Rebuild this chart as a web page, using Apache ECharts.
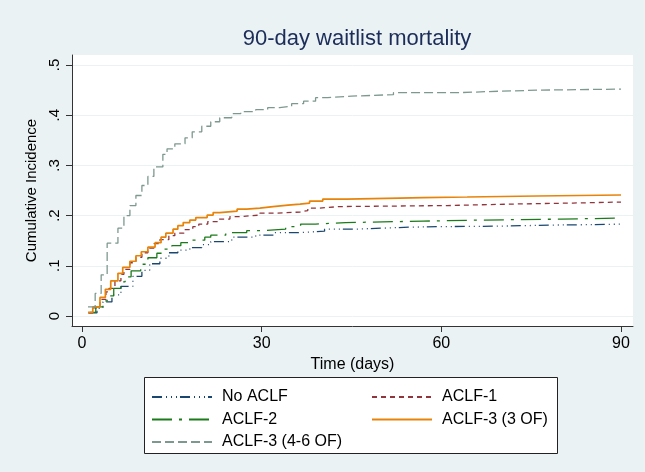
<!DOCTYPE html>
<html>
<head>
<meta charset="utf-8">
<script src="https://cdn.jsdelivr.net/npm/echarts@6/dist/echarts.min.js"></script>
<style>
  html, body { margin: 0; padding: 0; background: #EAF2F3; }
  #chart { width: 645px; height: 472px; }
</style>
</head>
<body>
<div id="chart"></div>
<script>
// ---- data ----
const seriesNames = ['No ACLF', 'ACLF-1', 'ACLF-2', 'ACLF-3 (3 OF)', 'ACLF-3 (4-6 OF)'];

const noAclfDays = [1.2, 2.5, 3.5, 5, 6.5, 8.5, 10, 11.3, 13, 14.5, 16, 18, 20, 21.5, 25, 29, 32, 36, 40.5, 46, 50, 55, 60, 70, 78, 85, 90];
const noAclfCI   = [0.006, 0.015, 0.028, 0.042, 0.059, 0.079, 0.091, 0.104, 0.115, 0.126, 0.131, 0.136, 0.142, 0.148, 0.157, 0.161, 0.166, 0.169, 0.173, 0.175, 0.177, 0.178, 0.179, 0.181, 0.182, 0.183, 0.183];

const aclf1Days = [1, 1.8, 3, 4, 4.5, 5.5, 6.5, 7, 8, 9, 10, 11, 12, 13, 14.5, 15.5, 17, 18.5, 19.5, 21, 22.7, 24.7, 26.4, 29.7, 32.5, 36.4, 37.7, 39.7, 43, 61, 72, 82, 90];
const aclf1CI   = [0.006, 0.016, 0.033, 0.048, 0.055, 0.07, 0.083, 0.093, 0.106, 0.117, 0.126, 0.135, 0.144, 0.152, 0.16, 0.165, 0.172, 0.178, 0.183, 0.188, 0.193, 0.198, 0.201, 0.205, 0.207, 0.21, 0.215, 0.218, 0.22, 0.223, 0.225, 0.227, 0.227];

const aclf2Days = [1.3, 2.3, 3.5, 4.2, 5.3, 6.5, 7.2, 8.2, 9.8, 11, 12.5, 13.5, 15, 16.5, 18, 20.5, 21.5, 24, 27.5, 30, 34, 36.5, 39, 44, 57, 66, 80, 90];
const aclf2CI   = [0.007, 0.018, 0.03, 0.04, 0.055, 0.068, 0.078, 0.09, 0.103, 0.116, 0.125, 0.133, 0.14, 0.146, 0.151, 0.157, 0.161, 0.166, 0.17, 0.173, 0.178, 0.183, 0.186, 0.189, 0.191, 0.193, 0.195, 0.195];

const aclf3aDays = [1, 1.8, 3, 3.9, 4.8, 6, 6.8, 8, 9, 9.9, 11, 12.2, 13.2, 14, 15.2, 16, 16.9, 18, 19, 20.9, 21.9, 23, 25.9, 27.5, 29.7, 31.9, 34.4, 36.4, 38, 40.2, 44.2, 53, 57, 64.3, 76, 90];
const aclf3aCI   = [0.007, 0.018, 0.037, 0.053, 0.07, 0.085, 0.097, 0.109, 0.12, 0.128, 0.137, 0.146, 0.157, 0.165, 0.173, 0.18, 0.186, 0.191, 0.196, 0.201, 0.206, 0.209, 0.213, 0.215, 0.218, 0.221, 0.223, 0.225, 0.229, 0.233, 0.235, 0.236, 0.237, 0.239, 0.241, 0.242];

const aclf3bDays = [1, 2.2, 3.2, 4.2, 6, 7, 8, 9, 10, 11, 12, 13.5, 14.2, 15.5, 17.2, 18.4, 20, 21.5, 23, 25, 26.5, 29, 31, 33, 35, 37, 39, 41, 45, 52, 63, 70, 76.5, 90];
const aclf3bCI   = [0.018, 0.045, 0.082, 0.145, 0.175, 0.2, 0.22, 0.24, 0.26, 0.278, 0.297, 0.322, 0.333, 0.343, 0.355, 0.367, 0.378, 0.387, 0.395, 0.403, 0.407, 0.411, 0.415, 0.418, 0.423, 0.428, 0.435, 0.438, 0.441, 0.445, 0.448, 0.45, 0.452, 0.452];

const xTicks = [0, 30, 60, 90];
const yTicks = [0, 0.1, 0.2, 0.3, 0.4, 0.5];
const yTickLabels = ['0', '.1', '.2', '.3', '.4', '.5'];

// ---- build ----
const FONT = '"Liberation Sans", Arial, Helvetica, sans-serif';
const zip = (d, v) => d.map((x, i) => [x, v[i]]);
const styles = [
  { color: '#1a476f', type: [10, 4, 1, 4, 1, 4, 1, 3], width: 1.3 },
  { color: '#90353b', type: [5, 4], width: 1.3 },
  { color: '#1b7a1b', type: [20, 7, 3, 7], width: 1.3 },
  { color: '#e8830a', type: 'solid', width: 1.7 },
  { color: '#7d988f', type: [9, 4], width: 1.3 }
];
const dataSets = [zip(noAclfDays, noAclfCI), zip(aclf1Days, aclf1CI), zip(aclf2Days, aclf2CI),
                  zip(aclf3aDays, aclf3aCI), zip(aclf3bDays, aclf3bCI)];

const series = seriesNames.map((n, i) => ({
  name: n,
  type: 'line',
  step: 'end',
  symbol: 'none',
  showSymbol: false,
  silent: true,
  animation: false,
  color: styles[i].color,
  lineStyle: { color: styles[i].color, type: styles[i].type, width: styles[i].width },
  data: dataSets[i]
}));

const chart = echarts.init(document.getElementById('chart'), null, { renderer: 'canvas' });
const legendCommon = {
  orient: 'vertical',
  itemWidth: 60,
  itemHeight: 16,
  itemGap: 6.5,
  selectedMode: false,
  itemStyle: { opacity: 0 },
  textStyle: { fontFamily: FONT, fontSize: 16, lineHeight: 16, color: '#000', padding: [0, 0, 0, 5] }
};
chart.setOption({
  backgroundColor: '#EAF2F3',
  animation: false,
  title: {
    text: '90-day waitlist mortality',
    left: 352, top: 23, textAlign: 'center',
    textStyle: { fontFamily: FONT, fontSize: 22, fontWeight: 'normal', color: '#1c2d5a' }
  },
  graphic: [{
    type: 'rect', z: 0,
    shape: { x: 144.5, y: 377.5, width: 413, height: 76 },
    style: { fill: '#ffffff', stroke: '#222', lineWidth: 1 }
  }],
  legend: [
    Object.assign({ left: 146, top: 384, data: ['No ACLF', 'ACLF-2', 'ACLF-3 (4-6 OF)'] }, legendCommon),
    Object.assign({ left: 366, top: 384, data: ['ACLF-1', 'ACLF-3 (3 OF)'] }, legendCommon)
  ],
  grid: { left: 72, top: 55, width: 561, height: 271, show: true, backgroundColor: '#ffffff', borderWidth: 0, containLabel: false },
  xAxis: {
    type: 'value', min: -1.67, max: 92,
    name: 'Time (days)', nameLocation: 'middle', nameGap: 25,
    nameTextStyle: { fontFamily: FONT, fontSize: 16, color: '#000' },
    axisLine: { show: true, onZero: false, lineStyle: { color: '#333', width: 1 } },
    axisTick: { show: true, length: 6, customValues: xTicks, lineStyle: { color: '#333' } },
    axisLabel: { customValues: xTicks, margin: 10, fontFamily: FONT, fontSize: 16, color: '#000' },
    splitLine: { show: false }
  },
  yAxis: {
    type: 'value', min: -0.02, max: 0.52,
    name: 'Cumulative Incidence', nameLocation: 'middle', nameGap: 23, nameRotate: 90,
    nameTextStyle: { fontFamily: FONT, fontSize: 15, color: '#000' },
    axisLine: { show: true, onZero: false, lineStyle: { color: '#333', width: 1 } },
    axisTick: { show: true, length: 6, customValues: yTicks, lineStyle: { color: '#333' } },
    axisLabel: {
      customValues: yTicks, rotate: 90, margin: 10, fontFamily: FONT, fontSize: 15, color: '#000',
      formatter: v => { const k = yTicks.findIndex(t => Math.abs(t - v) < 1e-9); return k >= 0 ? yTickLabels[k] : ''; }
    },
    splitLine: { show: true, lineStyle: { color: '#EAF2F3', width: 1 } }
  },
  series: series
});
</script>
</body>
</html>
